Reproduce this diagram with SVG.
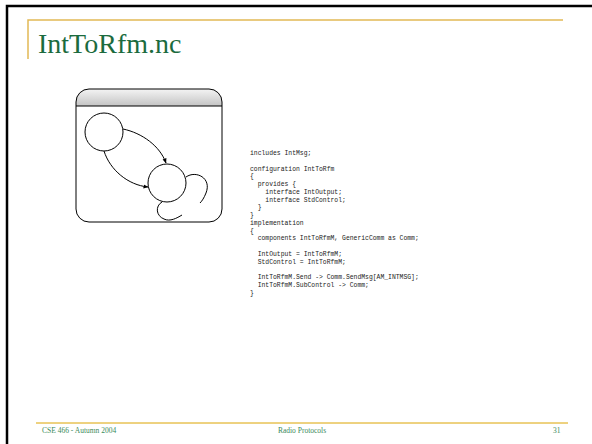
<svg xmlns="http://www.w3.org/2000/svg" width="592" height="444" viewBox="0 0 592 444">
<defs>
<linearGradient id="hdr" x1="0" y1="0" x2="0" y2="1">
<stop offset="0" stop-color="#f4f4f4"/>
<stop offset="1" stop-color="#c4c4c4"/>
</linearGradient>
<marker id="ah" viewBox="0 0 10 10" refX="9" refY="5" markerWidth="5" markerHeight="5" orient="auto">
<path d="M0,1 L10,5 L0,9 Z" fill="#000"/>
</marker>
<style>
.code{font-family:"Liberation Mono",monospace;font-size:6.4px;fill:#222;white-space:pre}
.foot{font-family:"Liberation Serif",serif;font-size:7.5px;fill:#3a8a5a}
.st{fill:none;stroke:#000;stroke-width:1}
</style>
</defs>
<rect width="592" height="444" fill="#fff"/>
<path d="M7,444 V6 H592" fill="none" stroke="#000" stroke-width="2.5"/>
<path d="M28,59 V20 H563" fill="none" stroke="#e2b955" stroke-width="1.5"/>
<text x="38" y="53" font-family="Liberation Serif, serif" font-size="28" fill="#1b6b3e">IntToRfm.nc</text>
<g id="picture">
<path d="M76,106 V102 A13,13 0 0 1 89,89 H209 A13,13 0 0 1 222,102 V106 Z" fill="url(#hdr)"/>
<rect x="76" y="89" width="146" height="133" rx="13" class="st"/>
<line x1="76" y1="106" x2="222" y2="106" stroke="#000" stroke-width="1"/>
</g>
<g id="state1"><circle cx="104" cy="132" r="19" class="st" fill="#fff"/></g>
<g id="state2"><circle cx="167" cy="183" r="19" class="st" fill="#fff"/></g>
<g id="connectors">
<path d="M123,129 C142,133 160,146 166,163" class="st" marker-end="url(#ah)"/>
<path d="M104,151 C110,170 128,185 148,187" class="st" marker-end="url(#ah)"/>
<path d="M186,177 C196,170 212,178 206,193 C204,198 202,201 200,203" class="st"/>
<path d="M162,202 C155,206 156,216 164,219 C170,222 177,218 182,215" class="st"/>
</g>
<g id="code">
<text class="code" x="250" y="155">includes IntMsg;</text>
<text class="code" x="250" y="170.5">configuration IntToRfm</text>
<text class="code" x="250" y="178.25">{</text>
<text class="code" x="250" y="186">  provides {</text>
<text class="code" x="250" y="193.75">    interface IntOutput;</text>
<text class="code" x="250" y="201.5">    interface StdControl;</text>
<text class="code" x="250" y="209.25">  }</text>
<text class="code" x="250" y="217">}</text>
<text class="code" x="250" y="224.75">implementation</text>
<text class="code" x="250" y="232.5">{</text>
<text class="code" x="250" y="240.25">  components IntToRfmM, GenericComm as Comm;</text>
<text class="code" x="250" y="255.75">  IntOutput = IntToRfmM;</text>
<text class="code" x="250" y="263.5">  StdControl = IntToRfmM;</text>
<text class="code" x="250" y="279">  IntToRfmM.Send -&gt; Comm.SendMsg[AM_INTMSG];</text>
<text class="code" x="250" y="286.75">  IntToRfmM.SubControl -&gt; Comm;</text>
<text class="code" x="250" y="294.5">}</text>
</g>
<path d="M36,423 H568" stroke="#dca400" stroke-width="1"/>
<text class="foot" x="42" y="433">CSE 466 - Autumn 2004</text>
<text class="foot" x="302" y="433" text-anchor="middle">Radio Protocols</text>
<text class="foot" x="553" y="433">31</text>
</svg>
